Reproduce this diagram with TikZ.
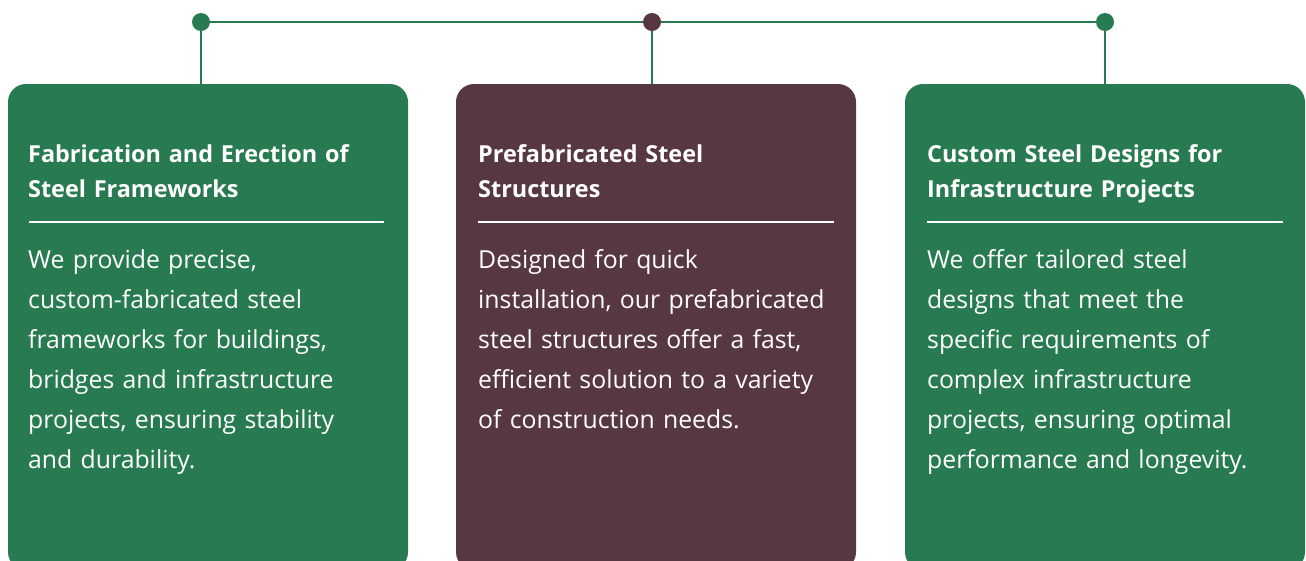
\documentclass[tikz,border=0pt]{standalone}
\usepackage{fontspec}
\setmainfont{Open Sans}
\usepackage{tikz}
\usepackage{xcolor}
\definecolor{cardgreen}{HTML}{287B51}
\definecolor{cardwine}{HTML}{573840}

\begin{document}
\begin{tikzpicture}[x=1pt,y=-1pt]%
  \tikzstyle{card}=[rectangle,rounded corners=18pt,minimum width=400pt,minimum height=486pt,inner sep=0pt]
  \tikzstyle{dotn}=[circle,inner sep=0pt,minimum size=18pt]
  \tikzstyle{link}=[draw=cardgreen,line width=2.2pt]
  \tikzstyle{head}=[anchor=base west,text=white,text width=370pt,align=left,inner sep=0pt,
                    font=\fontsize{23.4}{35}\selectfont\bfseries]
  \tikzstyle{body}=[anchor=base west,text=white,text width=370pt,align=left,inner sep=0pt,
                    font=\fontsize{24.8}{40}\selectfont]
  \tikzstyle{rule}=[draw=white,line width=2pt]
  \clip (0,0) rectangle (1306,560);
  % cards
  \node(cardL)[card,fill=cardgreen] at (208,327) {};
  \node(cardM)[card,fill=cardwine] at (656,327) {};
  \node(cardR)[card,fill=cardgreen] at (1105,327) {};
  % connectors
  \node(dotL)[dotn] at (201,22) {};
  \node(dotM)[dotn] at (652,22) {};
  \node(dotR)[dotn] at (1105,22) {};
  \draw[link] (dotL.center) -- (dotM.center) -- (dotR.center);
  \draw[link] (dotL.center) -- (dotL |- cardL.north);
  \draw[link] (dotM.center) -- (dotM |- cardM.north);
  \draw[link] (dotR.center) -- (dotR |- cardR.north);
  \fill[cardgreen] (dotL) circle (9);
  \fill[cardwine] (dotM) circle (9);
  \fill[cardgreen] (dotR) circle (9);
  % left card
  \node(headL)[head] at (28,162) {Fabrication and Erection of\\Steel Frameworks};
  \draw[rule] (29,222) -- (384,222);
  \node(bodyL)[body] at (28,268) {We provide precise,\\custom-fabricated steel\\frameworks for buildings,\\bridges and infrastructure\\projects, ensuring stability\\and durability.};
  % middle card
  \node(headM)[head] at (478,162) {Prefabricated Steel\\Structures};
  \draw[rule] (478,222) -- (834,222);
  \node(bodyM)[body] at (478,268) {Designed for quick\\installation, our prefabricated\\steel structures offer a fast,\\efficient solution to a variety\\of construction needs.};
  % right card
  \node(headR)[head] at (927,162) {Custom Steel Designs for\\Infrastructure Projects};
  \draw[rule] (927,222) -- (1283,222);
  \node(bodyR)[body] at (927,268) {We offer tailored steel\\designs that meet the\\specific requirements of\\complex infrastructure\\projects, ensuring optimal\\performance and longevity.};
\end{tikzpicture}
\end{document}
